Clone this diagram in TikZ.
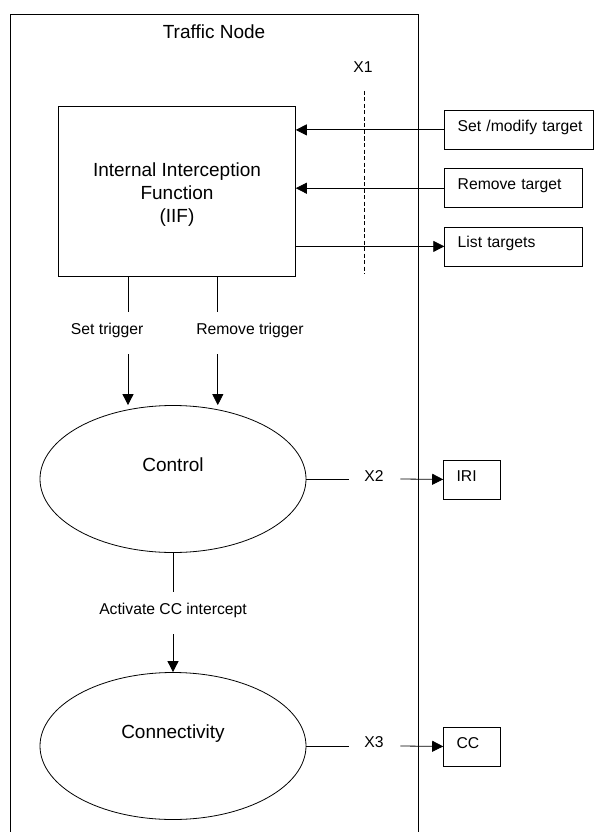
\documentclass[tikz,border=0pt]{standalone}
\usepackage{fontspec}
\setmainfont{Liberation Sans}
\usetikzlibrary{arrows.meta,shapes.geometric}
\begin{document}
\begin{tikzpicture}[x=1pt,y=-1pt,
  line width=0.8pt,
  big/.style={font=\fontsize{19}{23}\selectfont},
  small/.style={font=\fontsize{15.7}{19}\selectfont},
  arr/.style={-{Triangle[length=11pt,width=11pt]}},
  rbox/.style={draw, small, anchor=north west, inner sep=0pt, text height=21pt, text depth=18pt, align=left, text width=#1},
  sbox/.style={draw, small, anchor=north west, inner sep=0pt, text height=22pt, text depth=17pt, align=left, text width=#1},
  ell/.style={draw, ellipse, big, inner sep=0pt, minimum width=266pt, minimum height=147pt},
  lbl/.style={small, anchor=base, inner sep=0pt},
  sep/.style={dash pattern=on 4pt off 2.5pt}
]
\useasboundingbox (0,0) rectangle (594,832);

% frame
\draw (10.2,832) -- (10.2,14.3) -- (418.6,14.3) -- (418.6,832);
\node[big, anchor=base, inner sep=0pt] (title) at (214,39) {Traffic Node};

% IIF
\node[draw, big, align=center, minimum width=236.8pt, minimum height=170pt, inner sep=0pt] (iif) at (177,191) {\rule{0pt}{20pt}Internal Interception\\Function\\(IIF)};

% X1 separator
\node[lbl] (x1) at (363,72.3) {X1};
\coordinate (x1top) at (364.8,91);
\coordinate (x1bot) at (364.8,274);
\draw[sep] (x1top) -- (x1bot);

% right boxes
\node[rbox=149pt] (smt) at (444.3,110) {\hspace*{13pt}Set /modify target};
\node[rbox=137.7pt] (rmt) at (444.3,168.3) {\hspace*{13pt}Remove target};
\node[rbox=137.7pt] (lst) at (444.3,226.5) {\hspace*{13pt}List targets};

\draw[arr] (smt.west) -- (smt.west -| iif.east);
\draw[arr] (rmt.west) -- (rmt.west -| iif.east);
\draw[arr] (lst.west -| iif.east) -- (lst.west);

% Control
\node[ell, text height=5pt, text depth=19.6pt] (ctl) at (173,479) {Control};

\coordinate (t1a) at (128,312);
\coordinate (t1b) at (128,354);
\coordinate (t2a) at (217.8,312);
\coordinate (t2b) at (217.8,354);
\draw (iif.south -| t1a) -- (t1a);
\draw (iif.south -| t2a) -- (t2a);
\node[lbl] (stl) at (107.2,334.3) {Set trigger};
\node[lbl] (rtl) at (250,334.3) {Remove trigger};
\draw[arr] (t1b) -- (t1b |- ctl.north);
\draw[arr] (t2b) -- (t2b |- ctl.north);

% IRI
\node[sbox=56.8pt] (iri) at (443.2,459.5) {\hspace*{13pt}IRI};
\coordinate (x2a) at (348.5,479);
\coordinate (x2b) at (400.4,479);
\draw (ctl.east) -- (x2a);
\node[lbl] (x2) at (374,481) {X2};
\draw[arr] (x2b) -- (iri.west);

% Connectivity
\node[ell, text height=5pt, text depth=20.4pt] (con) at (173,746) {Connectivity};
\coordinate (c1) at (173,592);
\coordinate (c2) at (173,634);
\draw (ctl.south) -- (c1);
\node[lbl] (acl) at (173,614) {Activate CC intercept};
\draw[arr] (c2) -- (con.north);

% CC
\node[sbox=56.8pt, text height=21.8pt, text depth=17.2pt] (cc) at (443.2,726.5) {\hspace*{13pt}CC};
\coordinate (x3a) at (348.5,746);
\coordinate (x3b) at (400.4,746);
\draw (con.east) -- (x3a);
\node[lbl] (x3) at (374,747.3) {X3};
\draw[arr] (x3b) -- (cc.west);
\end{tikzpicture}
\end{document}
